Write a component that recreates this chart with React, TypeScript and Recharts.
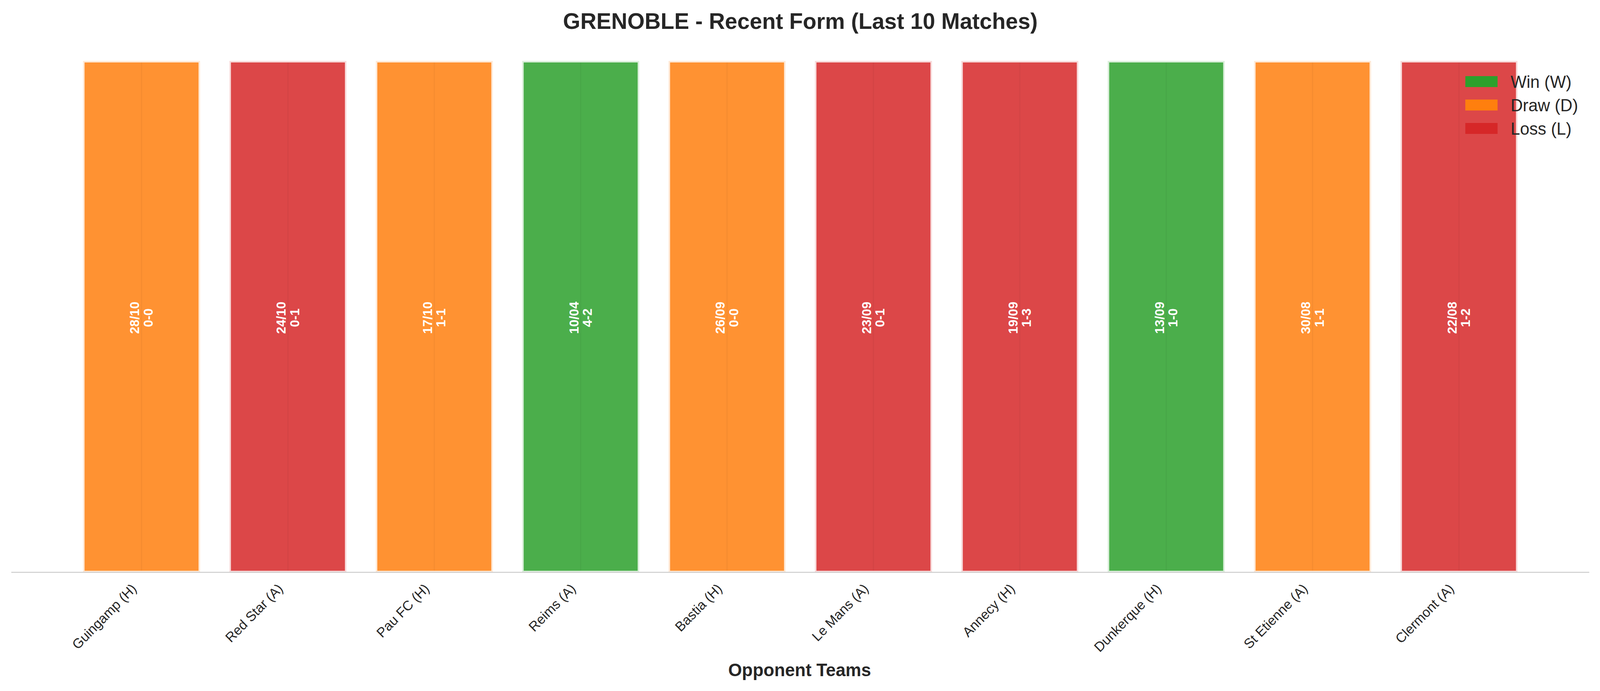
import React, { useLayoutEffect, useState } from "react"
import { BarChart, Bar, XAxis, YAxis, Cell, LabelList, Legend } from "recharts"

const FONT = '"Liberation Sans", Arial, Helvetica, sans-serif'
const INK = "#262626"
const W = 4170
const H = 1770

// last 10 matches, most recent first
const opponents = [
  "Guingamp (H)",
  "Red Star (A)",
  "Pau FC (H)",
  "Reims (A)",
  "Bastia (H)",
  "Le Mans (A)",
  "Annecy (H)",
  "Dunkerque (H)",
  "St Etienne (A)",
  "Clermont (A)",
]
const results = ["D", "L", "D", "W", "D", "L", "L", "W", "D", "L"]
const dates = ["28/10", "24/10", "17/10", "10/04", "26/09", "23/09", "19/09", "13/09", "30/08", "22/08"]
const scores = ["0-0", "0-1", "1-1", "4-2", "0-0", "0-1", "1-3", "1-0", "1-1", "1-2"]
const heights = [1, 1, 1, 1, 1, 1, 1, 1, 1, 1]

const resultColors: Record<string, string> = { W: "#2ca02c", D: "#ff7f0e", L: "#d62728" }
const legendKeys = ["W", "D", "L"]
const legendLabels = ["Win (W)", "Draw (D)", "Loss (L)"]

const data = opponents.map((team, i) => ({
  team,
  value: heights[i],
  result: results[i],
  date: dates[i],
  score: scores[i],
}))

function MatchBar(props: any) {
  const { x, y, width, height, fill } = props
  const cx = x + width / 2
  return (
    <g>
      <rect
        x={x}
        y={y}
        width={width}
        height={height}
        fill={fill}
        fillOpacity={0.85}
        stroke="#ffffff"
        strokeOpacity={0.8}
        strokeWidth={8}
      />
      <line x1={cx} x2={cx} y1={y + 4} y2={y + height - 4} stroke="#000" strokeOpacity={0.04} strokeWidth={3} />
    </g>
  )
}

function MatchLabel(props: any) {
  const { x, y, width, height, index } = props
  const cx = x + width / 2
  const cy = y + height / 2 + 3
  return (
    <text
      transform={`translate(${cx},${cy}) rotate(-90)`}
      textAnchor="middle"
      fill="#ffffff"
      fontWeight="bold"
      fontSize={33}
      fontFamily={FONT}
    >
      <tspan x={0} y={-6}>{dates[index]}</tspan>
      <tspan x={0} y={29}>{scores[index]}</tspan>
    </text>
  )
}

function TeamTick(props: any) {
  const { x, y, payload } = props
  return (
    <text
      transform={`translate(${x - 11},${y + 44}) rotate(-45)`}
      textAnchor="end"
      fontSize={35}
      fill={INK}
      fontFamily={FONT}
    >
      {payload.value}
    </text>
  )
}

function FormLegend() {
  return (
    <svg width={360} height={200}>
      {legendKeys.map((k, i) => (
        <g key={k}>
          <rect x={19} y={25 + i * 60} width={84} height={28} fill={resultColors[k]} />
          <text x={137} y={55 + i * 60} fontSize={44} fill={INK} fontFamily={FONT}>
            {legendLabels[i]}
          </text>
        </g>
      ))}
    </svg>
  )
}

export default function App() {
  // the browser caps the viewport width, so squeeze the figure to fit it
  const [vpWidth, setVpWidth] = useState(W)
  useLayoutEffect(() => {
    setVpWidth(Math.min(W, document.documentElement.clientWidth))
  }, [])
  const sx = vpWidth / W

  return (
    <div style={{ position: "absolute", left: 0, top: 0, width: vpWidth, height: H, overflow: "hidden", background: "#fff" }}>
      <div style={{ position: "absolute", left: 0, top: 0, width: W, height: H, transform: `scale(${sx}, 1)`, transformOrigin: "0 0" }}>
        <BarChart width={W} height={H} data={data} margin={{ top: 156, right: 28, bottom: 0, left: 29.5 }} barCategoryGap="10%">
          <XAxis
            dataKey="team"
            height={304}
            interval={0}
            tickLine={false}
            tickSize={0}
            tickMargin={0}
            padding={{ left: 148.75, right: 148.75 }}
            axisLine={{ stroke: "#cccccc", strokeWidth: 2.5 }}
            tick={<TeamTick />}
          />
          <YAxis hide type="number" domain={[0, 1]} />
          <Legend
            layout="horizontal"
            verticalAlign="middle"
            align="center"
            wrapperStyle={{ position: "absolute", left: 3800, top: 170, width: 360, height: 200 }}
            content={() => <FormLegend />}
          />
          <Bar dataKey="value" isAnimationActive={false} shape={<MatchBar />}>
            {data.map((d, i) => (
              <Cell key={i} fill={resultColors[d.result]} />
            ))}
            <LabelList dataKey="date" content={<MatchLabel />} />
          </Bar>
        </BarChart>
        <svg width={W} height={H} style={{ position: "absolute", left: 0, top: 0, pointerEvents: "none" }}>
          <text x={2086} y={74} textAnchor="middle" fontSize={58} fontWeight="bold" fill={INK} fontFamily={FONT}>
            GRENOBLE - Recent Form (Last 10 Matches)
          </text>
          <text x={2084} y={1732} textAnchor="middle" fontSize={46} fontWeight="bold" fill={INK} fontFamily={FONT}>
            Opponent Teams
          </text>
        </svg>
      </div>
    </div>
  )
}
